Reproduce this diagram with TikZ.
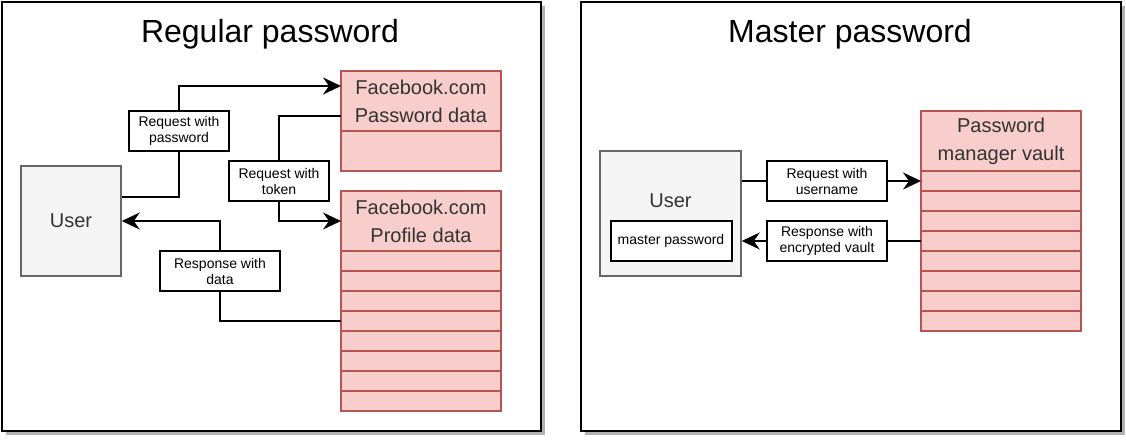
\documentclass[tikz,border=0pt]{standalone}
\usepackage{fontspec}
\setmainfont{Liberation Sans}
\usetikzlibrary{positioning,calc,arrows.meta,shadows}
\definecolor{redfill}{HTML}{F8CECC}
\definecolor{redline}{HTML}{B85450}
\definecolor{userfill}{HTML}{F5F5F5}
\definecolor{userline}{HTML}{666666}
\definecolor{usertext}{HTML}{333333}
\tikzset{
  panel/.style={draw=black,line width=2pt,fill=white,
    drop shadow={shadow xshift=4pt,shadow yshift=-4pt,fill=black,opacity=0.3}},
  titletext/.style={font=\fontsize{32}{38}\selectfont},
  usernode/.style={draw=userline,fill=userfill,line width=1.5pt,text=usertext,
    font=\fontsize{20}{24}\selectfont},
  tabhead/.style={draw=redline,fill=redfill,line width=1.5pt,minimum width=160,
    minimum height=60,outer sep=0pt,align=center,text=usertext,
    font=\fontsize{20}{28}\selectfont},
  tabrow/.style={draw=redline,fill=redfill,line width=1.5pt,minimum width=160,
    minimum height=20,outer sep=0pt},
  labelnode/.style={draw=black,fill=white,line width=2pt,align=center,inner sep=0pt,
    minimum height=40,font=\fontsize{14}{16}\selectfont},
  link/.style={line width=2pt},
  linkarrow/.style={line width=2pt,-{Stealth[length=18pt 0 0,width=17pt 0 0,inset=6pt]}}
}
\begin{document}
\begin{tikzpicture}[x=1pt,y=-1pt]
\fill[white] (0,0) rectangle (1126,440);
\useasboundingbox (0,0) rectangle (1126,440);

% regular password
\node[panel,minimum width=539,minimum height=429] (leftpanel) at (271.5,216.5) {};
\node[titletext] (lefttitle) at (270,34) {Regular password};
\node[usernode,minimum width=100,minimum height=110] (leftuser) at (71,221) {User};

\node[tabhead] (pwhead) at (421,101) {Facebook.com\\Password data};
\node[tabrow,minimum height=40,below=0pt of pwhead] (pwrow) {};

\node[tabhead] (pfhead) at (421,221) {Facebook.com\\Profile data};
\foreach \i in {1,...,8}
  \node[tabrow] (pfrow\i) at (421,{241+20*\i}) {};

\node[labelnode,minimum width=100] (reqpw) at (179,131) {Request with\\password};
\node[labelnode,minimum width=100] (reqtok) at (279,181) {Request with\\token};
\node[labelnode,minimum width=120] (respdata) at (220,271) {Response with\\data};

\draw[link] ($(leftuser.east)+(0,-24)$) -| (reqpw.south);
\draw[linkarrow] (reqpw.north) |- ($(pwhead.west)+(0,-15)$);
\draw[link] ($(pwhead.west)+(0,15)$) -| (reqtok.north);
\draw[linkarrow] (reqtok.south) |- (pfhead.west);
\draw[link] (pfrow4.west) -| (respdata.south);
\draw[linkarrow] (respdata.north) |- (leftuser.east);

% master password
\node[panel,minimum width=540,minimum height=429] (rightpanel) at (851,216.5) {};
\node[titletext] (righttitle) at (850,34) {Master password};
\node[usernode,minimum width=141,minimum height=125] (rightuser) at (670.5,213.5) {};
\node[text=usertext,font=\fontsize{20}{24}\selectfont] (rightusername) at (670.5,201) {User};
\node[labelnode,minimum width=121] (masterpw) at (671,241) {master password};

\node[tabhead] (vaulthead) at (1001,141) {Password\\manager vault};
\foreach \i in {1,...,8}
  \node[tabrow] (vaultrow\i) at (1001,{161+20*\i}) {};

\node[labelnode,minimum width=120] (reqname) at (827,181) {Request with\\username};
\node[labelnode,minimum width=120] (respvault) at (827,241) {Response with\\encrypted vault};

\draw[link] (rightuser.east |- reqname.west) -- (reqname.west);
\draw[linkarrow] (reqname.east) -- (vaultrow1.west);
\draw[link] (vaultrow4.west) -- (respvault.east);
\draw[linkarrow] (respvault.west) -- (rightuser.east |- masterpw.east);
\end{tikzpicture}
\end{document}
